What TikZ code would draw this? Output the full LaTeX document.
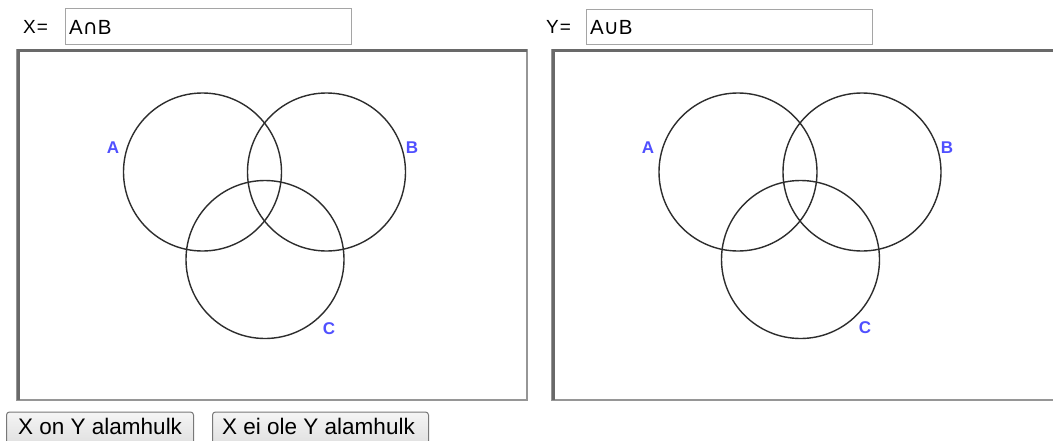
\documentclass[tikz,border=0pt]{standalone}
\usepackage{fontspec}
\setmainfont{Liberation Sans}
\newfontfamily\symfont{DejaVu Sans}
\definecolor{setblue}{RGB}{80,80,255}
\definecolor{circline}{RGB}{45,45,45}
\definecolor{boxline}{RGB}{165,165,165}
\definecolor{frameLight}{RGB}{150,150,150}
\definecolor{frameDark}{RGB}{105,105,105}
\definecolor{btnline}{RGB}{120,120,120}
\tikzset{
  venn/.style={circle, draw=circline, line width=1.4pt, minimum size=158pt, inner sep=0pt},
  setlabel/.style={text=setblue, font=\fontsize{17}{17}\selectfont\bfseries, inner sep=0pt},
  inputbox/.style={draw=boxline, line width=1pt, fill=white, anchor=north west, inner sep=0pt},
  inputtext/.style={anchor=west, inner sep=0pt, font=\fontsize{20.5}{20.5}\selectfont},
  prompt/.style={anchor=west, inner sep=0pt, font=\fontsize{19}{19}\selectfont},
  btn/.style={draw=btnline, line width=1pt, rounded corners=3pt, anchor=north west,
              top color=white!96!black, bottom color=black!14, inner sep=0pt},
  btntext/.style={anchor=base west, inner sep=0pt, font=\fontsize{22.5}{22.5}\selectfont}
}
\begin{document}
\begin{tikzpicture}[x=1pt,y=-1pt]
\path[use as bounding box, clip] (0,0) rectangle (1053,440);
\fill[white] (0,0) rectangle (1053,440);

% prompts and input boxes
\node[prompt] (px) at (23,27) {X\kern1pt=};
\node[inputbox, minimum width=286pt, minimum height=36pt] (bx) at (65,8) {};
\node[inputtext] (tx) at (69,27) {A{\symfont ∩}B};
\node[prompt] (py) at (546,27) {Y\kern1pt=};
\node[inputbox, minimum width=286pt, minimum height=35pt] (by) at (586,9) {};
\node[inputtext] (ty) at (590,27) {A{\symfont ∪}B};

% left panel frame
\draw[frameLight, line width=1.8pt] (17,49.5) rectangle (527,400);
\draw[frameDark, line width=3pt] (18.5,400) -- (18.5,50) -- (527,50);
% right panel frame
\draw[frameLight, line width=1.8pt] (552,49.5) rectangle (1060,400);
\draw[frameDark, line width=3pt] (553.5,400) -- (553.5,50) -- (1060,50);

% left Venn diagram
\node[venn] (A1) at (202.5,172) {};
\node[venn] (B1) at (326.5,172) {};
\node[venn] (C1) at (265,259.5) {};
\node[setlabel] (lA1) at (113,148) {A};
\node[setlabel] (lB1) at (412,148) {B};
\node[setlabel] (lC1) at (329,329) {C};

% right Venn diagram
\node[venn] (A2) at (738,172) {};
\node[venn] (B2) at (862,172) {};
\node[venn] (C2) at (800.5,259.5) {};
\node[setlabel] (lA2) at (648,148) {A};
\node[setlabel] (lB2) at (947,148) {B};
\node[setlabel] (lC2) at (865,328) {C};

% buttons
\node[btn, minimum width=187pt, minimum height=40pt] (b1) at (6,411.5) {};
\node[btntext] (t1) at (18,434.5) {X on Y alamhulk};
\node[btn, minimum width=216pt, minimum height=40pt] (b2) at (212,411.5) {};
\node[btntext] (t2) at (222,434.5) {X ei ole Y alamhulk};
\end{tikzpicture}
\end{document}
